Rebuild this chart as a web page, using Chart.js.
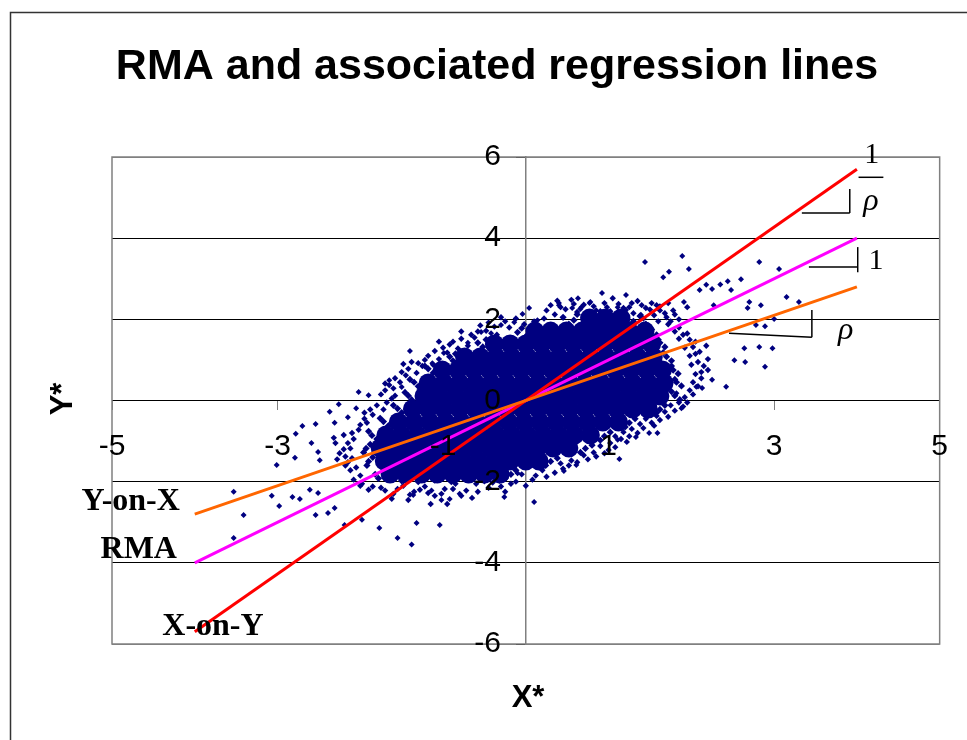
<!DOCTYPE html>
<html>
<head>
<meta charset="utf-8">
<script src="https://cdn.jsdelivr.net/npm/chart.js@4.4.1/dist/chart.umd.min.js"></script>
<style>
html, body { margin: 0; padding: 0; background: #fff; }
canvas { display: block; }
</style>
</head>
<body>
<canvas id="rmaChart" width="967" height="740"></canvas>
<script>
// tick values on both axes
const xTicks = [-5, -3, -1, 1, 3, 5];
const yTicks = [-6, -4, -2, 0, 2, 4, 6];

// the three regression lines (end points)
const lineX = [-4, 4];
const yOnX = [-2.8, 2.8];
const rmaY = [-4, 4];
const xOnY = [-5.7, 5.7];

// solid centre of the cloud: one row of x values per y level
const coreRowY = [2.03, 1.71, 1.39, 1.07, 0.75, 0.43, 0.11, -0.21, -0.53, -0.85, -1.17, -1.49, -1.81];
const coreRowX = [
    [0.77, 0.96, 1.15],
    [0.11, 0.30, 0.49, 0.68, 0.87, 1.06, 1.25, 1.44],
    [-0.38, -0.19, 0.00, 0.19, 0.38, 0.57, 0.76, 0.95, 1.14, 1.33, 1.52],
    [-0.74, -0.55, -0.36, -0.17, 0.02, 0.21, 0.40, 0.59, 0.78, 0.97, 1.16, 1.35, 1.54],
    [-1.01, -0.82, -0.63, -0.44, -0.25, -0.06, 0.13, 0.32, 0.51, 0.70, 0.89, 1.08, 1.27, 1.46, 1.65],
    [-1.18, -0.99, -0.80, -0.61, -0.42, -0.23, -0.04, 0.15, 0.34, 0.53, 0.72, 0.91, 1.10, 1.29, 1.48, 1.67],
    [-1.23, -1.04, -0.85, -0.66, -0.47, -0.28, -0.09, 0.10, 0.29, 0.48, 0.67, 0.86, 1.05, 1.24, 1.43, 1.62],
    [-1.37, -1.18, -0.99, -0.80, -0.61, -0.42, -0.23, -0.04, 0.15, 0.34, 0.53, 0.72, 0.91, 1.10, 1.29, 1.48],
    [-1.54, -1.35, -1.16, -0.97, -0.78, -0.59, -0.40, -0.21, -0.02, 0.17, 0.36, 0.55, 0.74, 0.93, 1.12],
    [-1.69, -1.50, -1.31, -1.12, -0.93, -0.74, -0.55, -0.36, -0.17, 0.02, 0.21, 0.40, 0.59, 0.78],
    [-1.76, -1.57, -1.38, -1.19, -1.00, -0.81, -0.62, -0.43, -0.24, -0.05, 0.14, 0.33, 0.52],
    [-1.71, -1.52, -1.33, -1.14, -0.95, -0.76, -0.57, -0.38, -0.19, 0.00, 0.16],
    [-1.64, -1.45, -1.26, -1.07, -0.88, -0.69, -0.50, -0.31]
];

// crowded points just outside the solid centre
const innerEdge = [
    [0.45, 2.05], [0.58, 1.98], [0.62, 2.12], [0.72, 2.02], [0.88, 2.08], [1.00, 1.98], [1.08, 2.12], [1.22, 2.02],
    [1.30, 1.95], [1.38, 2.08], [0.52, 1.88], [1.45, 1.88],
    [-0.10, 1.68], [-0.05, 1.78], [0.02, 1.62], [1.52, 1.75], [1.58, 1.62], [1.50, 1.55],
    [-0.58, 1.42], [-0.52, 1.32], [-0.48, 1.50], [1.62, 1.42], [1.68, 1.32], [1.60, 1.50],
    [-0.92, 1.08], [-0.88, 0.98], [-0.85, 1.15], [1.70, 1.08], [1.76, 0.98], [1.66, 1.18],
    [-1.18, 0.78], [-1.12, 0.68], [-1.22, 0.85], [1.78, 0.75], [1.84, 0.66], [1.76, 0.85],
    [-1.35, 0.45], [-1.30, 0.35], [-1.40, 0.52], [1.82, 0.45], [1.88, 0.36], [1.80, 0.52],
    [-1.42, 0.12], [-1.38, 0.02], [-1.46, 0.20], [1.80, 0.12], [1.86, 0.02], [1.76, 0.22],
    [-1.55, -0.20], [-1.50, -0.30], [-1.60, -0.12], [1.62, -0.22], [1.68, -0.12], [1.58, -0.30],
    [-1.72, -0.52], [-1.66, -0.62], [-1.76, -0.44], [1.25, -0.55], [1.32, -0.45], [1.20, -0.65],
    [-1.86, -0.86], [-1.80, -0.95], [-1.90, -0.76], [0.95, -0.88], [1.02, -0.78], [0.90, -0.98],
    [-1.93, -1.18], [-1.88, -1.08], [-1.96, -1.28], [0.72, -1.18], [0.80, -1.10], [0.66, -1.28],
    [-1.90, -1.50], [-1.85, -1.40], [-1.92, -1.60], [0.30, -1.50], [0.38, -1.42], [0.24, -1.60],
    [-1.82, -1.82], [-1.78, -1.92], [-0.18, -1.82], [-0.12, -1.72], [-0.25, -1.92], [-1.50, -1.98],
    [-1.30, -2.00], [-1.10, -1.96], [-0.90, -2.00], [-0.70, -1.95], [-0.50, -1.98]
];

// thinner band a little further out
const midEdge = [
    [0.25, 2.22], [0.42, 2.30], [0.58, 2.38], [0.66, 2.26], [0.82, 2.32], [0.90, 2.20], [1.12, 2.38], [1.25, 2.30],
    [1.45, 2.28], [1.52, 2.40], [0.38, 2.46], [0.98, 2.30],
    [-0.12, 2.02], [-0.25, 1.95], [-0.38, 1.82], [-0.45, 1.92], [-0.58, 1.70], [-0.66, 1.62], [-0.78, 1.52],
    [-0.92, 1.38], [-1.00, 1.30], [-1.10, 1.22], [-1.22, 1.00], [-1.30, 0.92], [-1.42, 0.78], [-1.50, 0.70],
    [-1.58, 0.55], [-1.65, 0.38], [-1.70, 0.25], [-1.62, 0.05], [-0.30, 2.05], [-0.78, 1.70], [-1.05, 1.45], [-1.48, 0.90],
    [-1.80, -0.12], [-1.88, -0.22], [-1.95, -0.45], [-2.00, -0.60], [-2.10, -0.80], [-2.15, -1.05], [-2.20, -1.20],
    [-2.18, -1.38], [-2.15, -1.52], [-2.12, -1.72], [-2.08, -1.95], [-2.00, -2.10], [-2.28, -1.45], [-2.32, -0.92],
    [-1.85, -2.12], [-1.70, -2.22], [-1.55, -2.18], [-1.40, -2.32], [-1.28, -2.20], [-1.18, -2.28], [-1.02, -2.30],
    [-0.88, -2.18], [-0.78, -2.35], [-0.58, -2.25], [-0.40, -2.02], [-0.30, -2.12], [-0.12, -2.00], [0.00, -2.10],
    [0.12, -1.85], [0.25, -1.88], [-1.62, -2.42], [-0.95, -2.55],
    [0.45, -1.68], [0.52, -1.60], [0.62, -1.52], [0.75, -1.45], [0.85, -1.38], [1.00, -1.22], [1.08, -1.15],
    [1.15, -0.95], [1.25, -0.88], [1.35, -0.80], [1.42, -0.68], [1.52, -0.55], [1.62, -0.48], [1.72, -0.40],
    [1.80, -0.25], [1.90, -0.15],
    [1.95, -0.05], [2.02, 0.15], [2.08, 0.35], [2.12, 0.70], [2.08, 0.95], [2.05, 1.15], [2.02, 1.32], [1.98, 1.50],
    [1.90, 1.62], [1.85, 1.80], [2.20, 0.75], [2.18, 1.35],
    [1.75, 1.95], [1.68, 2.15], [1.62, 2.22], [1.58, 2.35], [1.80, 2.12], [1.72, 2.40]
];

// speckled points round the edge of the cloud
const edgeCloud = [
    [0.35, 2.12], [0.48, 2.25], [0.62, 2.18], [0.70, 2.36], [0.85, 2.22], [0.95, 2.40], [1.02, 2.20], [1.18, 2.28],
    [1.30, 2.15], [1.42, 2.02], [1.50, 2.24], [1.60, 1.95], [0.22, 2.02], [0.10, 1.95], [-0.02, 1.88], [0.30, 2.35],
    [0.55, 2.48], [1.05, 2.52], [1.35, 2.45], [0.78, 2.10],
    [-0.20, 1.80], [-0.35, 1.62], [-0.48, 1.72], [-0.62, 1.55], [-0.70, 1.35], [-0.82, 1.28], [-0.95, 1.18],
    [-1.05, 1.02], [-1.12, 0.88], [-1.25, 0.85], [-1.32, 0.68], [-1.45, 0.62], [-1.52, 0.45], [-1.60, 0.30],
    [-1.58, 0.12], [-0.55, 1.85], [-0.88, 1.45], [-1.18, 1.10], [-1.38, 0.95], [-1.70, 0.42], [-1.75, 0.15], [-1.68, -0.05],
    [-1.72, -0.22], [-1.85, -0.35], [-1.92, -0.55], [-2.02, -0.72], [-2.08, -0.95], [-2.12, -1.18], [-2.10, -1.42],
    [-2.05, -1.65], [-2.00, -1.85], [-2.20, -0.85], [-2.25, -1.30], [-2.18, -1.60], [-1.98, -2.05], [-1.90, -2.20],
    [-2.30, -1.05], [-1.95, -0.30],
    [-1.75, -2.15], [-1.60, -2.30], [-1.48, -2.10], [-1.35, -2.25], [-1.22, -2.12], [-1.10, -2.35], [-0.98, -2.18],
    [-0.85, -2.05], [-0.72, -2.22], [-0.60, -2.05], [-0.45, -2.15], [-0.32, -1.98], [-0.18, -2.05], [-0.05, -1.82],
    [0.08, -1.95], [0.20, -1.72], [0.35, -1.78], [0.42, -1.55], [0.55, -1.48], [-1.42, -2.45], [-1.15, -2.55],
    [-0.65, -2.40], [-0.25, -2.25],
    [0.70, -1.35], [0.82, -1.28], [0.90, -1.12], [1.02, -1.05], [1.08, -0.88], [1.18, -0.78], [1.28, -0.70],
    [1.38, -0.58], [1.45, -0.45], [1.58, -0.38], [1.68, -0.28], [1.75, -0.12], [0.95, -1.30], [1.22, -1.02],
    [1.55, -0.62], [1.85, -0.05],
    [1.92, 0.08], [1.98, 0.25], [2.02, 0.45], [2.05, 0.65], [2.00, 0.88], [1.98, 1.10], [1.92, 1.30], [1.85, 1.52],
    [1.80, 1.70], [2.12, 0.55], [2.15, 0.85], [2.10, 1.20], [2.05, 1.45], [1.95, 1.65], [1.72, 1.88], [2.20, 1.02],
    [1.55, 2.10], [1.62, 2.32], [1.70, 2.05], [1.78, 2.22], [1.85, 2.00], [1.40, 2.35], [1.28, 2.40], [1.95, 2.30]
];

// isolated points further out
const outerCloud = [
    [-3.53, -2.25], [-3.41, -2.82], [-3.53, -3.39], [-3.07, -2.35], [-2.98, -2.60], [-3.01, -1.59], [-2.82, -2.38],
    [-2.73, -2.43], [-2.78, -0.82], [-2.70, -0.63], [-2.54, -0.58], [-2.59, -1.05], [-2.51, -1.27], [-2.79, -1.41],
    [-2.49, -1.47], [-2.54, -2.82], [-2.39, -2.77], [-2.61, -2.20], [-2.51, -2.28], [-2.31, -2.65], [-2.19, -3.07],
    [-1.98, -2.94], [-1.77, -3.14], [-1.55, -3.39], [-1.38, -3.55], [-1.36, -2.33], [-1.32, -3.02], [-2.37, -0.28],
    [-2.26, -0.09], [-2.02, 0.21], [-1.90, 0.13], [-2.31, -0.55], [-2.15, -0.41], [-2.05, -0.19], [-1.65, 0.50],
    [-1.50, 0.33], [-1.40, 1.22], [-1.13, 0.92], [-0.99, 1.17], [-0.70, 1.42], [-0.54, 1.69], [-0.42, 1.66],
    [-0.30, 1.86], [-0.14, 1.93], [-0.04, 2.13], [0.04, 2.28], [0.14, 1.98], [0.40, 2.35], [0.67, 2.30],
    [0.78, 2.43], [1.11, 2.30], [1.21, 2.23], [1.39, 2.11],
    [-0.26, -2.38], [0.10, -2.50], [-0.80, -2.30], [-0.92, -2.43], [-1.02, -2.45], [-1.14, -2.22], [-0.10, -1.79],
    [0.46, -1.74], [0.61, -1.59], [1.13, -1.44], [1.33, -0.90], [1.49, -0.80], [1.59, -0.80], [1.11, -0.97],
    [-1.04, -3.07],
    [1.89, 3.56], [1.44, 3.41], [2.82, 3.41], [1.97, 3.24], [1.73, 3.17], [1.66, 3.04], [2.60, 2.99], [2.44, 2.94],
    [2.35, 2.86], [3.06, 3.24], [3.15, 2.55], [3.30, 2.43], [2.84, 2.35], [2.68, 2.28], [3.00, 2.01], [2.78, 1.86],
    [2.89, 1.83], [2.82, 1.32], [2.98, 1.29], [2.64, 1.29], [2.65, 0.95], [2.52, 0.99], [2.89, 0.83], [2.42, 0.34],
    [2.25, 0.51], [2.13, 0.31], [2.06, 0.34], [1.88, -0.19], [1.82, 0.18], [1.43, -0.36], [0.92, 2.65], [1.21, 2.60],
    [0.77, 2.40], [0.63, 2.52], [0.56, 2.28], [0.40, 2.40], [2.18, 2.85], [2.25, 2.75], [2.10, 2.72], [2.48, 2.72],
    [1.91, 2.43], [2.70, 2.43], [2.27, 2.35]
];

const NAVY = '#000080';

const toPoints = pairs => pairs.map(p => ({ x: p[0], y: p[1] }));
const corePoints = [];
coreRowY.forEach((y, i) => coreRowX[i].forEach(x => corePoints.push({ x: x, y: y })));
const linePoints = ys => lineX.map((x, i) => ({ x: x, y: ys[i] }));

const serif = "'Liberation Serif', 'Times New Roman', serif";
const sans = "'Liberation Sans', Arial, sans-serif";

// titles, plot frame, line names and slope marks
const decor = {
    id: 'decor',
    beforeDatasetsDraw(chart) {
        const { ctx, chartArea: a } = chart;
        ctx.save();
        ctx.strokeStyle = '#808080';
        ctx.lineWidth = 1.5;
        ctx.strokeRect(a.left, a.top, a.right - a.left, a.bottom - a.top);
        ctx.restore();
    },
    afterDraw(chart) {
        const { ctx } = chart;
        const px = v => chart.scales.x.getPixelForValue(v);
        const py = v => chart.scales.y.getPixelForValue(v);
        ctx.save();

        // outer frame of the chart
        ctx.strokeStyle = '#333';
        ctx.lineWidth = 1.5;
        ctx.strokeRect(10.5, 12.5, 1000, 1000);

        ctx.fillStyle = '#000';
        ctx.textAlign = 'center';
        ctx.textBaseline = 'alphabetic';
        ctx.font = 'bold 43px ' + sans;
        ctx.fillText('RMA and associated regression lines', 497, 79);

        ctx.font = 'bold 31px ' + sans;
        ctx.fillText('X*', 528, 707);
        ctx.save();
        ctx.translate(72, 399);
        ctx.rotate(-Math.PI / 2);
        ctx.fillText('Y*', 0, 0);
        ctx.restore();

        // line names
        ctx.font = 'bold 32px ' + serif;
        ctx.textBaseline = 'middle';
        ctx.textAlign = 'right';
        ctx.fillText('Y-on-X', px(-4.18), py(-2.5));
        ctx.fillText('RMA', px(-4.215), py(-3.68));
        ctx.textAlign = 'center';
        ctx.fillText('X-on-Y', px(-3.78), py(-5.58));

        // slope triangles
        ctx.strokeStyle = '#000';
        ctx.lineWidth = 1.5;
        const seg = (x1, y1, x2, y2) => {
            ctx.beginPath();
            ctx.moveTo(px(x1), py(y1));
            ctx.lineTo(px(x2), py(y2));
            ctx.stroke();
        };
        seg(3.335, 4.62, 3.914, 4.62);
        seg(3.914, 4.62, 3.914, 5.21);
        seg(3.42, 3.29, 4.01, 3.29);
        seg(4.01, 3.16, 4.01, 3.78);
        seg(2.455, 1.66, 3.456, 1.56);
        seg(3.456, 1.56, 3.456, 2.23);
        seg(4.02, 5.50, 4.32, 5.50);

        ctx.font = '30px ' + serif;
        ctx.fillText('1', px(4.18), py(6.05));
        ctx.fillText('1', px(4.23), py(3.44));
        ctx.font = 'italic 32px ' + serif;
        ctx.fillText('\u03C1', px(4.17), py(4.90));
        ctx.fillText('\u03C1', px(3.866), py(1.72));
        ctx.restore();
    }
};

const diamonds = (pairs, r) => ({
    data: toPoints(pairs), pointStyle: 'rectRot', pointRadius: r, backgroundColor: NAVY, borderWidth: 0
});

new Chart(document.getElementById('rmaChart'), {
    type: 'scatter',
    data: {
        datasets: [
            { type: 'line', data: linePoints(yOnX), borderColor: '#FF6600', borderWidth: 3, pointRadius: 0, fill: false },
            { type: 'line', data: linePoints(xOnY), borderColor: '#FF0000', borderWidth: 3, pointRadius: 0, fill: false },
            { type: 'line', data: linePoints(rmaY), borderColor: '#FF00FF', borderWidth: 3, pointRadius: 0, fill: false },
            diamonds(outerCloud, 3),
            diamonds(edgeCloud, 3.2),
            diamonds(midEdge, 3.2),
            diamonds(innerEdge, 3.6),
            { data: corePoints, pointStyle: 'circle', pointRadius: 9.5, backgroundColor: NAVY, borderWidth: 0 }
        ]
    },
    options: {
        responsive: false,
        animation: false,
        events: [],
        layout: { padding: { left: 112, right: 23, top: 157, bottom: 96 } },
        plugins: { legend: { display: false }, tooltip: { enabled: false }, title: { display: false } },
        scales: {
            x: {
                type: 'linear',
                min: -5, max: 5,
                position: { y: 0 },
                afterFit: s => { s.height = 0; },
                afterBuildTicks: s => { s.ticks = xTicks.map(v => ({ value: v })); },
                grid: { drawOnChartArea: false, drawTicks: true, tickLength: 9, tickColor: '#808080' },
                border: { color: '#000', width: 1 },
                ticks: { z: 1, padding: 19, color: '#000', font: { family: sans, size: 30 }, maxRotation: 0, autoSkip: false }
            },
            y: {
                type: 'linear',
                min: -6, max: 6,
                position: { x: 0 },
                afterFit: s => { s.width = 0; },
                afterBuildTicks: s => { s.ticks = yTicks.map(v => ({ value: v })); },
                grid: {
                    color: c => (Math.abs(c.tick.value) === 6 ? '#808080' : '#000'),
                    tickColor: '#000',
                    tickLength: 9
                },
                border: { color: '#808080', width: 1.5 },
                ticks: {
                    z: 1, color: '#000', font: { family: sans, size: 30 }, autoSkip: false,
                    // labels are right-aligned on the axis line; trailing spaces keep them clear of it
                    callback: v => v + '   '
                }
            }
        }
    },
    plugins: [decor]
});
</script>
</body>
</html>
